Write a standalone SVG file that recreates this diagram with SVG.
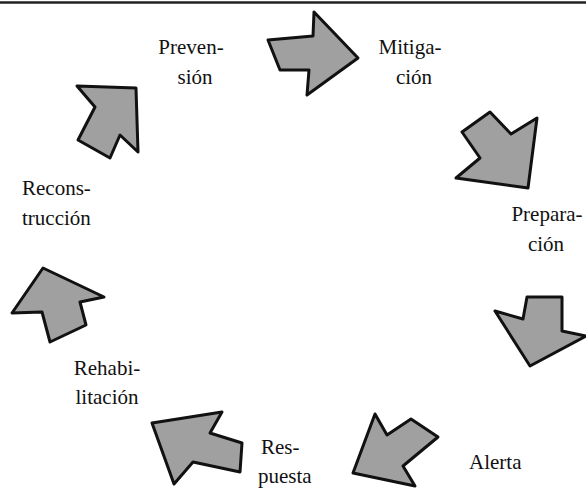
<svg xmlns="http://www.w3.org/2000/svg" width="586" height="489" viewBox="0 0 586 489">
<style>
  .lbl { font-family: "Liberation Serif", Tinos, "Times New Roman", serif; font-size: 21px; fill: #111; }
  .arr { fill: #a0a0a0; stroke: #111; stroke-width: 3; stroke-linejoin: round; }
</style>
<rect x="0" y="0" width="586" height="489" fill="#ffffff"/>
<line x1="0" y1="2.5" x2="586" y2="2.5" stroke="#222" stroke-width="2.5"/>
<g id="prevencion">
  <text class="lbl" x="191" y="54" text-anchor="middle">Preven-</text>
  <text class="lbl" x="195" y="84" text-anchor="middle">sión</text>
</g>
<g id="mitigacion">
  <text class="lbl" x="410" y="54" text-anchor="middle">Mitiga-</text>
  <text class="lbl" x="414" y="84" text-anchor="middle">ción</text>
</g>
<g id="preparacion">
  <text class="lbl" x="547" y="221" text-anchor="middle">Prepara-</text>
  <text class="lbl" x="546" y="251" text-anchor="middle">ción</text>
</g>
<g id="alerta">
  <text class="lbl" x="469" y="469">Alerta</text>
</g>
<g id="respuesta">
  <text class="lbl" x="261" y="454">Res-</text>
  <text class="lbl" x="258" y="483">puesta</text>
</g>
<g id="rehabilitacion">
  <text class="lbl" x="107" y="375" text-anchor="middle">Rehabi-</text>
  <text class="lbl" x="107" y="404" text-anchor="middle">litación</text>
</g>
<g id="reconstruccion">
  <text class="lbl" x="22" y="195">Recons-</text>
  <text class="lbl" x="22" y="225">trucción</text>
</g>
<g id="connectors">
  <polygon class="arr" points="268,40 313,36 314,12 358,58 307,95 309,70 280,70"/>
  <polygon class="arr" points="462,132 490,112 511,134 537,118 528,188 456,178 480,158"/>
  <polygon class="arr" points="527,297 562,297 562,331 586,336 530,366 495,311 523,319"/>
  <polygon class="arr" points="438,437 403,466 415,486 353,473 375,414 387,435 411,419"/>
  <polygon class="arr" points="152,423 222,412 210,433 242,443 240,472 193,462 174,484"/>
  <polygon class="arr" points="43,268 104,297 80,302 86,325 50,342 42,312 12,313"/>
  <polygon class="arr" points="136,88 138,152 120,135 110,158 78,140 95,107 77,86"/>
</g>
</svg>
